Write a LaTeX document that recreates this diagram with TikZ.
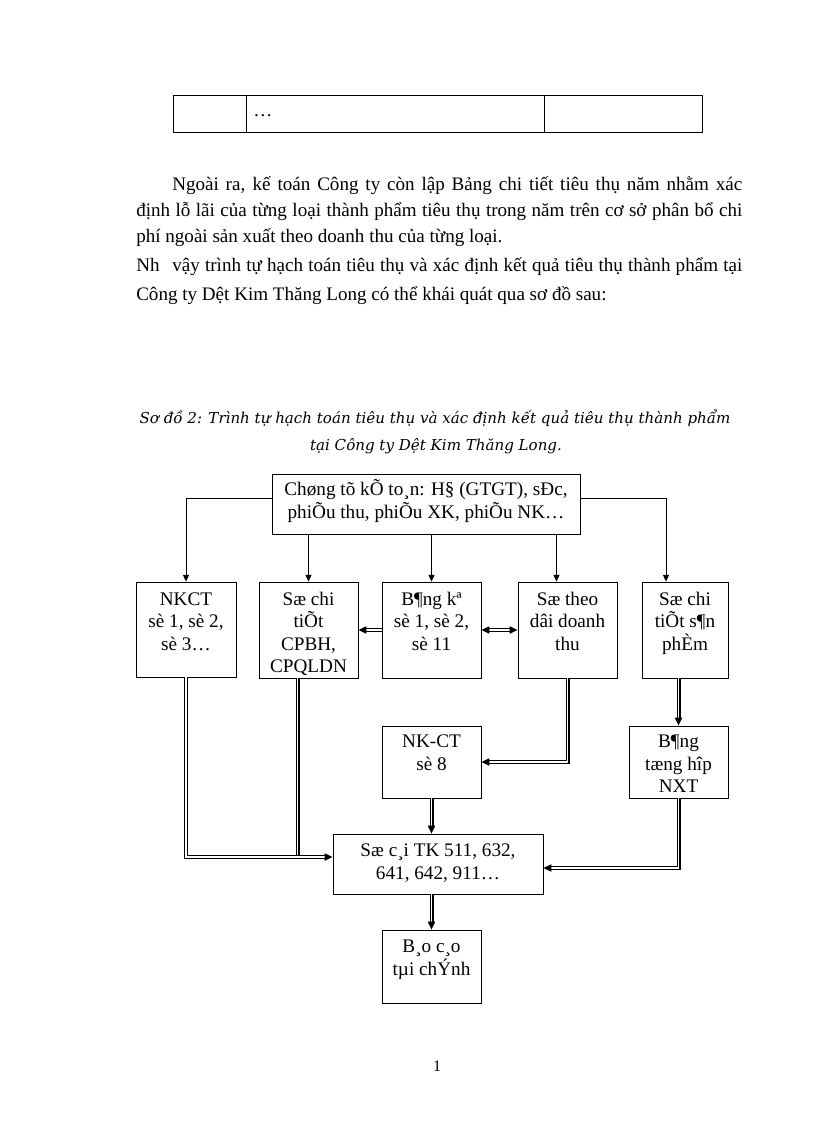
\documentclass[tikz,border=0pt]{standalone}
\usepackage{fontspec}
\setmainfont{Liberation Serif}
\newfontfamily\capfont{DejaVu Serif}
\usetikzlibrary{arrows.meta,calc}
\newcommand\tstrut{\rule{0pt}{14pt}}
\begin{document}
\begin{tikzpicture}[x=0.75pt,y=-0.75pt,
  bx/.style 2 args={draw, line width=0.65pt, inner sep=0pt, minimum width=#1*0.75pt, minimum height=#2*0.75pt},
  boxtext/.style={inner sep=0pt, align=center, font=\fontsize{14.4}{16.8}\selectfont, anchor=north},
  bodytext/.style={inner sep=0pt, anchor=base west, font=\fontsize{14.3}{16.8}\selectfont},
  captext/.style={inner sep=0pt, anchor=base, font=\capfont\itshape\fontsize{11.3}{13}\selectfont},
  single/.style={line width=0.65pt, -{Triangle[length=5pt,width=4.5pt]}},
  dbl/.style={double, double distance=1.3pt, line width=0.85pt, line join=miter},
  dtip/.style={-{Triangle[length=6pt,width=5.5pt]}},
  dtips/.style={{Triangle[length=6pt,width=5.5pt]}-{Triangle[length=6pt,width=5.5pt]}}]
\useasboundingbox (0,0) rectangle (816,1123);
\fill[white] (0,0) rectangle (816,1123);

% table row
\draw[line width=0.65pt] (173,95) rectangle (702,132);
\draw[line width=0.65pt] (246,95) -- (246,132) (544,95) -- (544,132);
\node[bodytext] (dots) at (253,117) {…};

% body text
\node[bodytext] (l1) at (172,191) {\makebox[427.5pt][s]{Ngoài ra, kế toán Công ty còn lập Bảng chi tiết tiêu thụ năm nhằm xác}};
\node[bodytext] (l2) at (136,217) {\makebox[454.5pt][s]{định lỗ lãi của từng loại thành phẩm tiêu thụ trong năm trên cơ sở phân bổ chi}};
\node[bodytext] (l3) at (136,243) {phí ngoài sản xuất theo doanh thu của từng loại.};
\node[bodytext] (l4) at (136,272) {\makebox[454.5pt][s]{Nh\hspace{0.4em} vậy trình tự hạch toán tiêu thụ và xác định kết quả tiêu thụ thành phẩm tại}};
\node[bodytext] (l5) at (136,300) {Công ty Dệt Kim Thăng Long có thể khái quát qua sơ đồ sau:};

% caption
\node[captext] (cap1) at (435,423) {Sơ đồ 2: Trình tự hạch toán tiêu thụ và xác định kết quả tiêu thụ thành phẩm};
\node[captext] (cap2) at (436,450) {tại Công ty Dệt Kim Thăng Long.};

% boxes
\node[bx={308}{60}] (top) at (426,504) {};
\node[boxtext] (topt) at ($(top.north)+(0,3.3)$) {\tstrut Chøng tõ kÕ to¸n: H§ (GTGT), sÐc,\\phiÕu thu, phiÕu XK, phiÕu NK…};

\node[bx={100}{95}] (nkct) at (186,629.5) {};
\node[boxtext] (nkctt) at ($(nkct.north)+(0,5)$) {\tstrut NKCT\\sè 1, sè 2,\\sè 3…};

\node[bx={99}{96}] (sochi) at (308.5,630) {};
\node[boxtext] (sochit) at ($(sochi.north)+(0,5)$) {\tstrut Sæ chi\\tiÕt\\CPBH,\\CPQLDN};

\node[bx={99}{96}] (bangke) at (431.5,630) {};
\node[boxtext] (bangket) at ($(bangke.north)+(0,5)$) {\tstrut B¶ng kª\\sè 1, sè 2,\\sè 11};

\node[bx={99}{96}] (sotheo) at (567.5,630) {};
\node[boxtext] (sotheot) at ($(sotheo.north)+(0,5)$) {\tstrut Sæ theo\\dâi doanh\\thu};

\node[bx={86}{96}] (sochisp) at (685,630) {};
\node[boxtext] (sochispt) at ($(sochisp.north)+(0,5)$) {\tstrut Sæ chi\\tiÕt s¶n\\phÈm};

\node[bx={99}{72}] (nkct8) at (431.5,762) {};
\node[boxtext] (nkct8t) at ($(nkct8.north)+(0,3.3)$) {\tstrut NK-CT\\sè 8};

\node[bx={99}{72}] (tonghop) at (678.5,762) {};
\node[boxtext] (tonghopt) at ($(tonghop.north)+(0,3.3)$) {\tstrut B¶ng\\tæng hîp\\NXT};

\node[bx={210}{60}] (socai) at (438,864) {};
\node[boxtext] (socait) at ($(socai.north)+(0,4.3)$) {\tstrut Sæ c¸i TK 511, 632,\\641, 642, 911…};

\node[bx={99}{73}] (baocao) at (431.5,966.5) {};
\node[boxtext] (baocaot) at ($(baocao.north)+(0,4.3)$) {\tstrut B¸o c¸o\\tµi chÝnh};

% single arrows from top box
\draw[single] ($(top.west)+(0,-6)$) -| (nkct.north);
\coordinate (rin) at ($(sochisp.north)+(-19,0)$);
\draw[single] ($(top.east)+(0,-6)$) -| (rin);
\draw[single] (top.south -| sochi.north) -- (sochi.north);
\draw[single] (top.south -| bangke.north) -- (bangke.north);
\coordinate (tin) at ($(sotheo.north)+(-11,0)$);
\draw[single] (top.south -| tin) -- (tin);

% double connectors
\draw[dbl,dtip] (bangke.west) -- (sochi.east);
\draw[dbl,dtips] (bangke.east) -- (sotheo.west);
\coordinate (jl) at ($(socai.west)+(0,-7)$);
\coordinate (sc) at ($(sochi.south)+(-11,0)$);
\draw[dbl] (sc) -- (sc |- jl);
\draw[dbl,dtip] (nkct.south) |- (jl);
\draw[dbl,dtip] (sotheo.south) |- (nkct8.east);
\coordinate (rsp) at (sochisp.south -| tonghop.north);
\draw[dbl,dtip] (rsp) -- (tonghop.north);
\coordinate (jr) at ($(socai.east)+(0,4)$);
\draw[dbl,dtip] (tonghop.south) |- (jr);
\draw[dbl,dtip] (nkct8.south) -- (nkct8.south |- socai.north);
\draw[dbl,dtip] (socai.south -| baocao.north) -- (baocao.north);

% page number
\node[inner sep=0pt, anchor=base, font=\fontsize{12}{14}\selectfont] (pg) at (437,1071) {1};
\end{tikzpicture}
\end{document}
